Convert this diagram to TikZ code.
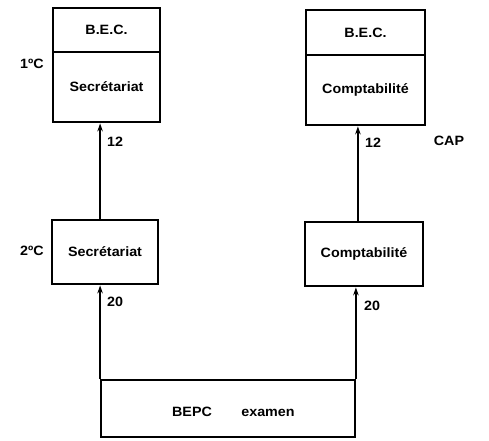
\documentclass[tikz,border=0pt]{standalone}
\usepackage{fontspec}
\setmainfont{Liberation Sans}[FakeStretch=1.06]
\usetikzlibrary{arrows.meta}
\tikzset{
  box/.style={draw, line width=1.8pt, inner sep=0pt, font=\fontsize{13.5}{16}\selectfont\bfseries},
  lbl/.style={inner sep=0pt, font=\fontsize{13.5}{16}\selectfont\bfseries},
  arr/.style={line width=1.8pt, -{Stealth[length=8pt,width=5.5pt]}, shorten >=0.5pt},
}
\begin{document}
\begin{tikzpicture}[x=1pt,y=-1pt]
\useasboundingbox (0,0) rectangle (489,440);
% top-left
\node[box, minimum width=107pt, minimum height=44pt] (becL) at (106.5,30) {B.E.C.};
\node[box, minimum width=107pt, minimum height=70pt] (secT) at (106.5,87) {Secrétariat};
% top-right
\node[box, minimum width=119pt, minimum height=45pt] (becR) at (365.5,32.5) {B.E.C.};
\node[box, minimum width=119pt, minimum height=70pt] (comT) at (365.5,90) {Comptabilité};
% middle
\node[box, minimum width=106pt, minimum height=64pt] (secM) at (105,252) {Secrétariat};
\node[box, minimum width=118pt, minimum height=64pt] (comM) at (364,254) {Comptabilité};
% bottom
\node[box, minimum width=254pt, minimum height=57pt] (bepc) at (228,408.5) {};
\node[lbl] (bepct) at (192,412) {BEPC};
\node[lbl] (exam) at (268,413) {examen};
% side labels
\node[lbl] (c1) at (32,64) {1ºC};
\node[lbl] (c2) at (32,251) {2ºC};
\node[lbl] (cap) at (449,141) {CAP};
% arrows
\draw[arr] (bepc.north west) -- (bepc.north west |- secM.south);
\draw[arr] (bepc.north east) -- (bepc.north east |- comM.south);
\draw[arr] (secM.north -| bepc.north west) -- (secT.south -| bepc.north west);
\draw[arr] ([xshift=2pt]comM.north -| bepc.north east) -- ([xshift=2pt]comT.south -| bepc.north east);
% numbers
\node[lbl] (n1) at (115,142) {12};
\node[lbl] (n2) at (373,143) {12};
\node[lbl] (n3) at (115,302) {20};
\node[lbl] (n4) at (372,306) {20};
\end{tikzpicture}
\end{document}
